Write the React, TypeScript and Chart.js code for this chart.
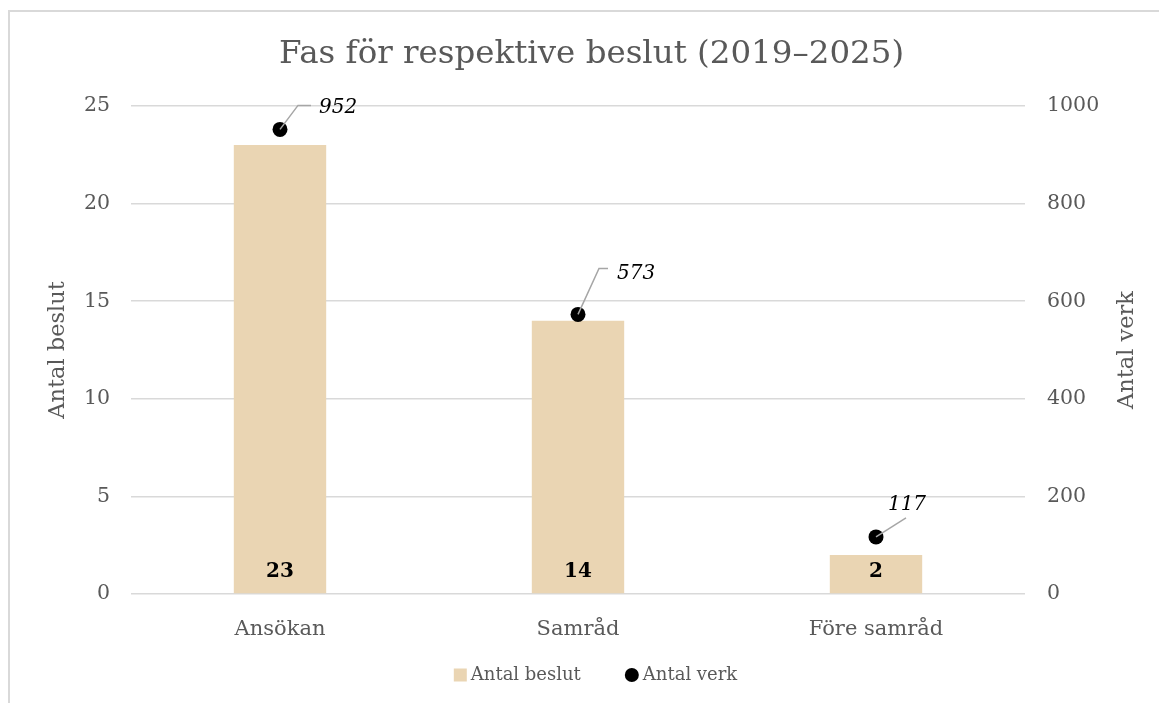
import { useEffect, useRef } from 'react';
import { Chart, registerables } from 'chart.js';

Chart.register(...registerables);

const categories = ['Ansökan', 'Samråd', 'Före samråd'];
const antalBeslut = [23, 14, 2];
const antalVerk = [952, 573, 117];
const seriesNames = ['Antal beslut', 'Antal verk'];
const chartTitle = 'Fas för respektive beslut (2019–2025)';
const leftAxisTitle = 'Antal beslut';
const rightAxisTitle = 'Antal verk';
const leftAxisRange = { min: 0, max: 25, step: 5 };
const rightAxisRange = { min: 0, max: 1000, step: 200 };

const FONT = "'DejaVu Serif', 'Liberation Serif', serif";
const TEXT = '#595959';
const BAR = '#EAD5B3';
const GRID = '#D9D9D9';
const LEADER = '#A6A6A6';

// style: leader-line offsets (pixels, relative to each point)
const verkLabelStyle = [
  { elbow: [18, -24], end: [31, -24], text: [39, -22], align: 'left' },
  { elbow: [21, -46], end: [30, -46], text: [39, -41], align: 'left' },
  { elbow: [30, -19], end: [30, -19], text: [31, -32], align: 'center' },
];

const overlay = {
  id: 'overlay',
  afterDatasetsDraw(chart: any) {
    const ctx = chart.ctx;
    const area = chart.chartArea;
    const barMeta = chart.getDatasetMeta(0);
    const ptMeta = chart.getDatasetMeta(1);
    ctx.save();
    ctx.font = `bold 20px ${FONT}`;
    ctx.fillStyle = '#000';
    ctx.textAlign = 'center';
    ctx.textBaseline = 'middle';
    barMeta.data.forEach((el: any, i: number) => {
      ctx.fillText(String(antalBeslut[i]), el.x, area.bottom - 22);
    });
    ptMeta.data.forEach((el: any, i: number) => {
      const o = verkLabelStyle[i];
      ctx.strokeStyle = LEADER;
      ctx.lineWidth = 1.5;
      ctx.beginPath();
      ctx.moveTo(el.x, el.y);
      ctx.lineTo(el.x + o.elbow[0], el.y + o.elbow[1]);
      ctx.lineTo(el.x + o.end[0], el.y + o.end[1]);
      ctx.stroke();
      ctx.font = `italic 20px ${FONT}`;
      ctx.fillStyle = '#000';
      ctx.textAlign = o.align as CanvasTextAlign;
      ctx.textBaseline = 'middle';
      ctx.fillText(String(antalVerk[i]), el.x + o.text[0], el.y + o.text[1]);
    });
    ctx.restore();
  },
  afterDraw(chart: any) {
    const ctx = chart.ctx;
    const area = chart.chartArea;
    const cy = (area.top + area.bottom) / 2;
    ctx.save();
    ctx.fillStyle = TEXT;
    ctx.font = `22.5px ${FONT}`;
    ctx.textAlign = 'center';
    ctx.textBaseline = 'middle';
    ctx.save();
    ctx.translate(58, cy);
    ctx.rotate(-Math.PI / 2);
    ctx.fillText(leftAxisTitle, 0, 0);
    ctx.restore();
    ctx.save();
    ctx.translate(1127, cy);
    ctx.rotate(-Math.PI / 2);
    ctx.fillText(rightAxisTitle, 0, 0);
    ctx.restore();

    // legend
    ctx.font = `18px ${FONT}`;
    ctx.textAlign = 'left';
    const w1 = ctx.measureText(seriesNames[0]).width;
    const w2 = ctx.measureText(seriesNames[1]).width;
    const total = 13 + 4 + w1 + 44 + 14 + 4 + w2;
    const ly = 675;
    let x = 595.5 - total / 2;
    ctx.fillStyle = BAR;
    ctx.fillRect(x, ly - 6.5, 13, 13);
    x += 17;
    ctx.fillStyle = TEXT;
    ctx.fillText(seriesNames[0], x, ly);
    x += w1 + 44;
    ctx.fillStyle = '#000';
    ctx.beginPath();
    ctx.arc(x + 7, ly, 7, 0, Math.PI * 2);
    ctx.fill();
    x += 18;
    ctx.fillStyle = TEXT;
    ctx.fillText(seriesNames[1], x, ly);
    ctx.restore();
  },
};

export default function App() {
  const ref = useRef<HTMLCanvasElement>(null);
  useEffect(() => {
    if (!ref.current) return;
    const chart = new Chart(ref.current, {
      type: 'bar',
      data: {
        labels: categories,
        datasets: [
          {
            type: 'bar',
            label: seriesNames[0],
            data: antalBeslut,
            backgroundColor: BAR,
            borderWidth: 0,
            barPercentage: 0.31,
            categoryPercentage: 1,
            yAxisID: 'y',
            order: 2,
          } as any,
          {
            type: 'line',
            label: seriesNames[1],
            data: antalVerk,
            showLine: false,
            pointRadius: 7.5,
            pointHoverRadius: 7.5,
            pointBackgroundColor: '#000',
            pointBorderColor: '#000',
            pointBorderWidth: 0,
            yAxisID: 'y1',
            order: 1,
          } as any,
        ],
      },
      options: {
        responsive: false,
        animation: false,
        devicePixelRatio: 1,
        layout: { padding: { left: 24, right: 0, top: 0, bottom: 0 } },
        plugins: {
          legend: { display: false },
          tooltip: { enabled: false },
          title: {
            display: true,
            text: chartTitle,
            color: TEXT,
            font: { family: FONT, size: 32.5, weight: 'normal' },
            padding: { top: 35.5, bottom: 31.5 },
          },
        },
        scales: {
          x: {
            grid: { display: false },
            border: { display: false },
            ticks: { color: TEXT, font: { family: FONT, size: 21 }, padding: 15 },
            afterFit: (s: any) => { s.height = 109; },
          },
          y: {
            position: 'left',
            min: leftAxisRange.min,
            max: leftAxisRange.max,
            ticks: { stepSize: leftAxisRange.step, color: TEXT, font: { family: FONT, size: 20.5 }, padding: 21 },
            grid: { color: GRID, lineWidth: 1.5, drawTicks: false },
            border: { display: false },
            afterFit: (s: any) => { s.width = 107; },
          },
          y1: {
            position: 'right',
            min: rightAxisRange.min,
            max: rightAxisRange.max,
            ticks: {
              stepSize: rightAxisRange.step,
              color: TEXT,
              font: { family: FONT, size: 20.5 },
              padding: 22,
              callback: (v: any) => String(v),
            },
            grid: { display: false, drawTicks: false },
            border: { display: false },
            afterFit: (s: any) => { s.width = 134; },
          },
        },
      } as any,
      plugins: [overlay],
    });
    return () => chart.destroy();
  }, []);

  return (
    <div style={{ position: 'fixed', left: 0, top: 0, width: 1159, height: 703, overflow: 'hidden', background: '#fff' }}>
      <div
        style={{
          position: 'absolute',
          left: 8,
          top: 10,
          width: 1300,
          height: 900,
          borderTop: '2px solid #D9D9D9',
          borderLeft: '2px solid #D9D9D9',
        }}
      />
      <canvas ref={ref} width={1159} height={703} style={{ position: 'absolute', left: 0, top: 0 }} />
    </div>
  );
}
